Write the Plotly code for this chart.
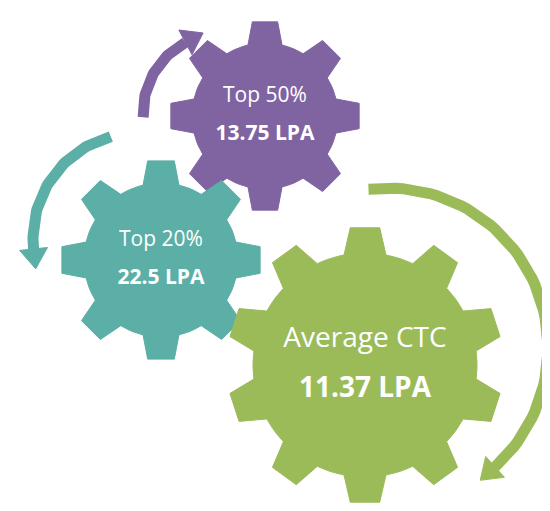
import numpy as np
import plotly.graph_objects as go

labels = ["Top 50%", "Top 20%", "Average CTC"]
values = ["13.75 LPA", "22.5 LPA", "11.37 LPA"]
colors = ["#8064A2", "#5BAFA6", "#9BBB59"]

W, H = 550, 511
# gear geometry in pixel space (y down): cx, cy, outer, inner, teeth
gears = [(257, 108, 95, 73, 8), (153, 252, 100, 77, 8), (357, 357, 138, 112, 10)]
# arrows: center x, y, radius, start deg, end deg (math angles, y up)
arcs = [(215, 105, 80, 183, 118), (130, 230, 105, 105, 186), (380, 340, 160, 97, -48)]
font_sizes = [21, 21, 28]


def gear_poly(cx, cy, ro, ri, n):
    xs, ys = [], []
    step = 2 * np.pi / n
    for i in range(n):
        a = np.pi / 2 + i * step
        for ang, r in [(a - step * 0.3, ri), (a - step * 0.17, ro), (a + step * 0.17, ro), (a + step * 0.3, ri)]:
            xs.append(cx + r * np.cos(ang))
            ys.append(H - cy + r * np.sin(ang))
        # body arc between teeth
        for t in np.linspace(a + step * 0.3, a + step * 0.7, 6)[1:-1]:
            xs.append(cx + ri * np.cos(t))
            ys.append(H - cy + ri * np.sin(t))
    return xs + xs[:1], ys + ys[:1]


fig = go.Figure()

for (cx, cy, r, a0, a1), c in zip(arcs, colors):
    t = np.radians(np.linspace(a0, a1, 60))
    ax = cx + r * np.cos(t)
    ay = H - cy + r * np.sin(t)
    fig.add_trace(go.Scatter(x=ax, y=ay, mode="lines", line=dict(color=c, width=11), hoverinfo="skip"))
    # arrow head
    te = np.radians(a1)
    sgn = np.sign(a1 - a0)
    tx, ty = -np.sin(te) * sgn, np.cos(te) * sgn
    nx, ny = np.cos(te), np.sin(te)
    px, py = cx + r * np.cos(te), H - cy + r * np.sin(te)
    hx = [px + nx * 14, px + tx * 20, px - nx * 14, px + nx * 14]
    hy = [py + ny * 14, py + ty * 20, py - ny * 14, py + ny * 14]
    fig.add_trace(go.Scatter(x=hx, y=hy, fill="toself", fillcolor=c, mode="lines",
                             line=dict(color=c, width=1), hoverinfo="skip"))

for (cx, cy, ro, ri, n), c, lab, val, fs in zip(gears, colors, labels, values, font_sizes):
    gx, gy = gear_poly(cx, cy, ro, ri, n)
    fig.add_trace(go.Scatter(x=gx, y=gy, fill="toself", fillcolor=c, mode="lines",
                             line=dict(color=c, width=1), hoverinfo="skip"))
    fig.add_trace(go.Scatter(
        x=[cx, cx], y=[H - cy + fs * 0.9, H - cy - fs * 0.9], mode="text",
        text=[lab, "<b>" + val + "</b>"],
        textfont=dict(color="white", size=fs, family="Open Sans"), hoverinfo="skip"))

fig.update_layout(
    width=W, height=H, margin=dict(l=0, r=0, t=0, b=0),
    showlegend=False, plot_bgcolor="white", paper_bgcolor="white",
    xaxis=dict(range=[0, W], visible=False),
    yaxis=dict(range=[0, H], visible=False),
)
fig.write_html("out.html")
